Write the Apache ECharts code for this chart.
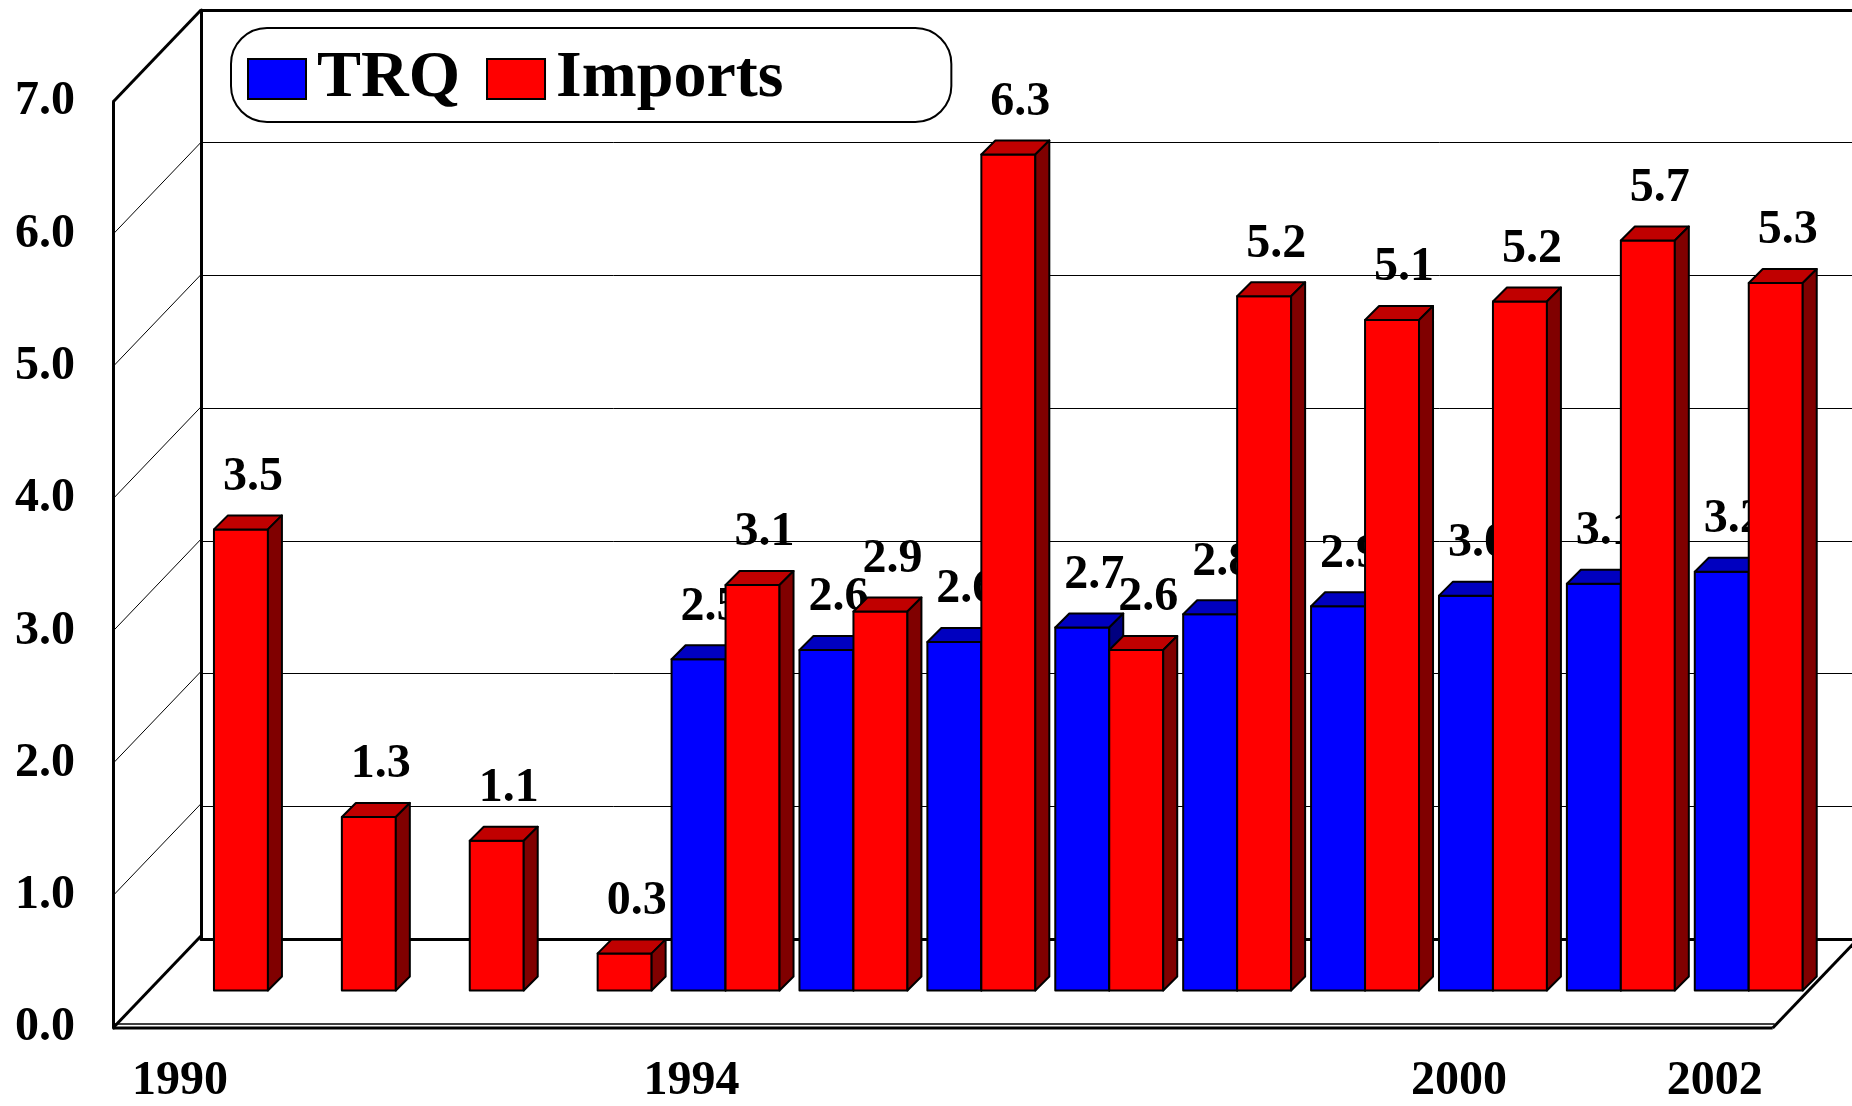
<!DOCTYPE html>
<html>
<head>
<meta charset="utf-8">
<title>TRQ vs Imports</title>
<script src="https://cdn.jsdelivr.net/npm/echarts@6/dist/echarts.min.js"></script>
<style>
  html, body { margin: 0; padding: 0; background: #fff; }
  #chart { width: 1852px; height: 1106px; }
</style>
</head>
<body>
<div id="chart"></div>
<script>
  var years = ['1990', '1991', '1992', '1993', '1994', '1995', '1996', '1997', '1998', '1999', '2000', '2001', '2002'];
  var shownYears = ['1990', '1994', '2000', '2002'];
  var trq = [null, null, null, null, 2.50, 2.57, 2.63, 2.74, 2.84, 2.90, 2.98, 3.07, 3.16];
  var imports = [3.48, 1.31, 1.13, 0.28, 3.06, 2.86, 6.31, 2.57, 5.24, 5.06, 5.20, 5.66, 5.34];
  var yTicks = [0, 1, 2, 3, 4, 5, 6, 7];

  var serif = '"Liberation Serif", "Times New Roman", serif';

  // colours of the 3d faces: front, top, side
  var faces = {
    TRQ: ['#0000FF', '#0000C0', '#000080'],
    Imports: ['#FF0000', '#C00000', '#800000']
  };

  function barRenderer(name, left) {
    return function (params, api) {
      var v = api.value(1);
      if (v == null || isNaN(v)) return;
      var base = api.coord([api.value(0), 0]);
      var top = api.coord([api.value(0), v]);
      var band = api.size([1, 0])[0];
      var w = band * 0.422;
      var d = 14; // depth of a bar
      var x0 = left ? base[0] - w : base[0];
      var x1 = x0 + w;
      var c = faces[name];
      var edge = { stroke: '#000', lineWidth: 2, lineJoin: 'round' };
      return {
        type: 'group',
        children: [
          {
            type: 'rect',
            shape: { x: x0, y: top[1], width: w, height: base[1] - top[1] },
            style: Object.assign({ fill: c[0] }, edge)
          },
          {
            type: 'polygon',
            shape: { points: [[x0, top[1]], [x0 + d, top[1] - d], [x1 + d, top[1] - d], [x1, top[1]]] },
            style: Object.assign({ fill: c[1] }, edge)
          },
          {
            type: 'polygon',
            shape: { points: [[x1, top[1]], [x1 + d, top[1] - d], [x1 + d, base[1] - d], [x1, base[1]]] },
            style: Object.assign({ fill: c[2] }, edge)
          },
          {
            type: 'text',
            style: {
              x: (x0 + x1) / 2 + 12,
              y: top[1] - 52,
              text: v.toFixed(1),
              align: 'center',
              verticalAlign: 'middle',
              fill: '#000',
              font: 'bold 48px ' + serif
            }
          }
        ]
      };
    };
  }

  // side wall and floor of the box
  function frameRenderer(params, api) {
    var cs = params.coordSys;
    var v = api.value(1);
    var y = api.coord([0, v])[1];
    var x = cs.x - 3;
    var thick = (v === 0 || v === 7);
    var kids = [{
      type: 'line',
      shape: { x1: x, y1: y, x2: x + 88, y2: y - 92 },
      style: { stroke: '#000', lineWidth: thick ? 3 : 1 }
    }];
    if (v === 0) {
      var right = cs.x + cs.width - 6;
      kids.push({
        type: 'line',
        shape: { x1: x, y1: y - 4, x2: right + 2, y2: y - 4 },
        style: { stroke: '#000', lineWidth: 1.5 }
      });
      kids.push({
        type: 'line',
        shape: { x1: x, y1: y, x2: right, y2: y },
        style: { stroke: '#000', lineWidth: 3 }
      });
      kids.push({
        type: 'line',
        shape: { x1: right, y1: y, x2: right + 88, y2: y - 92 },
        style: { stroke: '#000', lineWidth: 3 }
      });
    }
    return { type: 'group', children: kids };
  }

  var chart = echarts.init(document.getElementById('chart'));
  chart.setOption({
    animation: false,
    backgroundColor: '#fff',
    legend: {
      data: [
        { name: 'TRQ', itemStyle: { color: '#0000FF', borderColor: '#000', borderWidth: 2 } },
        { name: 'Imports', itemStyle: { color: '#FF0000', borderColor: '#000', borderWidth: 2 } }
      ],
      selectedMode: false,
      left: 231,
      top: 28,
      icon: 'rect',
      itemWidth: 58,
      itemHeight: 40,
      itemGap: 26,
      padding: [13, 168, 5, 16],
      backgroundColor: '#fff',
      borderColor: '#000',
      borderWidth: 2,
      borderRadius: 36,
      textStyle: {
        fontFamily: serif,
        fontWeight: 'bold',
        fontSize: 66,
        lineHeight: 66,
        color: '#000',
        padding: [10, 0, 0, 6]
      }
    },
    grid: [
      // back wall
      { left: 201, top: 10, right: 0, height: 929 },
      // front plane (axis labels)
      { left: 116, top: 102, width: 1662.7, height: 928 },
      // plane the bars stand on
      { left: 150, top: 63, width: 1662.7, height: 927.5 }
    ],
    xAxis: [
      {
        gridIndex: 0, type: 'value', position: 'bottom', min: 0, max: 1,
        axisLine: { show: true, lineStyle: { color: '#000', width: 3 } },
        axisTick: { show: false }, axisLabel: { show: false }, splitLine: { show: false }
      },
      {
        gridIndex: 0, type: 'value', position: 'top', min: 0, max: 1,
        axisLine: { show: true, lineStyle: { color: '#000', width: 3 } },
        axisTick: { show: false }, axisLabel: { show: false }, splitLine: { show: false }
      },
      {
        gridIndex: 1, type: 'category', data: years,
        axisLine: { show: false }, axisTick: { show: false }, splitLine: { show: false },
        axisLabel: {
          interval: function (i, val) { return shownYears.indexOf(val) >= 0; },
          margin: 30,
          color: '#000',
          fontFamily: serif,
          fontWeight: 'bold',
          fontSize: 48
        }
      },
      {
        gridIndex: 2, type: 'category', data: years, show: false
      }
    ],
    yAxis: [
      {
        gridIndex: 0, type: 'value', min: 0, max: 7, interval: 1,
        axisLine: { show: true, lineStyle: { color: '#000', width: 3 } },
        axisTick: { show: false }, axisLabel: { show: false },
        splitLine: { show: true, lineStyle: { color: '#000', width: 1 } }
      },
      {
        gridIndex: 1, type: 'value', min: 0, max: 7, interval: 1, offset: 3,
        axisLine: { show: true, lineStyle: { color: '#000', width: 3 } },
        axisTick: { show: false }, splitLine: { show: false },
        axisLabel: {
          margin: 38,
          color: '#000',
          fontFamily: serif,
          fontWeight: 'bold',
          fontSize: 48,
          formatter: function (v) { return v.toFixed(1); }
        }
      },
      {
        gridIndex: 2, type: 'value', min: 0, max: 7, interval: 1, show: false
      }
    ],
    series: [
      {
        name: 'frame',
        type: 'custom',
        xAxisIndex: 2,
        yAxisIndex: 1,
        silent: true,
        z: 1,
        data: yTicks.map(function (v) { return [0, v]; }),
        encode: { x: 0, y: 1 },
        renderItem: frameRenderer
      },
      {
        name: 'TRQ',
        type: 'custom',
        xAxisIndex: 3,
        yAxisIndex: 2,
        z: 3,
        itemStyle: { color: '#0000FF' },
        data: years.map(function (y, i) { return [i, trq[i]]; }),
        encode: { x: 0, y: 1 },
        renderItem: barRenderer('TRQ', true)
      },
      {
        name: 'Imports',
        type: 'custom',
        xAxisIndex: 3,
        yAxisIndex: 2,
        z: 4,
        itemStyle: { color: '#FF0000' },
        data: years.map(function (y, i) { return [i, imports[i]]; }),
        encode: { x: 0, y: 1 },
        renderItem: barRenderer('Imports', false)
      }
    ]
  });
</script>
</body>
</html>
